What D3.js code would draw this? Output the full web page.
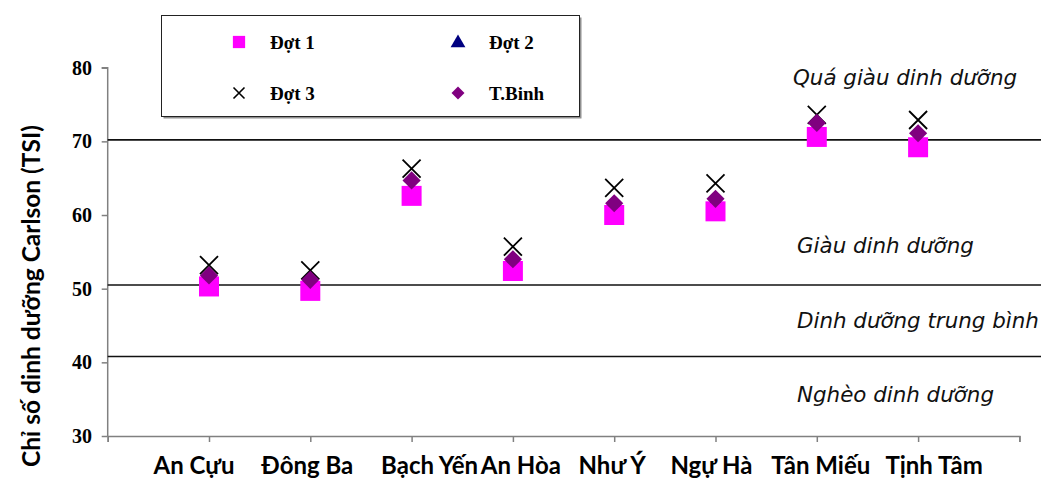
<!DOCTYPE html>
<html>
<head>
<meta charset="utf-8">
<script src="https://cdn.jsdelivr.net/npm/d3@7"></script>
<style>
  html, body { margin: 0; padding: 0; background: #fff; }
  svg { display: block; }
</style>
</head>
<body>
<script>
// Carlson trophic state index (TSI) per lake, three sampling rounds and their mean
const lakes = ["An Cựu", "Đông Ba", "Bạch Yến", "An Hòa", "Như Ý", "Ngự Hà", "Tân Miếu", "Tịnh Tâm"];
const dot1 = [50.3, 49.7, 62.6, 52.4, 60.0, 60.5, 70.6, 69.2];
const dot2 = [51.8, 51.3, 64.9, 53.9, 61.5, 62.1, 72.4, 71.1];
const dot3 = [53.2, 52.5, 66.3, 55.7, 63.7, 64.3, 73.6, 72.9];
const tbinh = [51.8, 51.2, 64.7, 54.0, 61.6, 62.2, 72.5, 71.1];
const yTicks = [30, 40, 50, 60, 70, 80];

// Trophic class boundaries and zone names
const boundaries = [70.2, 50.5, 40.8];
const zones = [
  { name: "Quá giàu dinh dưỡng", v: 77.65 },
  { name: "Giàu dinh dưỡng", v: 54.8 },
  { name: "Dinh dưỡng trung bình", v: 44.67 },
  { name: "Nghèo dinh dưỡng", v: 34.6 }
];

// Horizontal shift of each lake name relative to its point
const labelShift = [-15, -3, 18, 8, -2, -4, 4, 16];

const W = 1041, H = 479;
const svg = d3.select("body").append("svg").attr("width", W).attr("height", H);

const x = d3.scaleLinear().domain([0, 9]).range([107.7, 1019.4]);
const y = d3.scaleLinear().domain([30, 80]).range([436, 67.7]);

// Axes
const axisColor = "#808080";
const yAxis = svg.append("g").attr("transform", `translate(${x(0)},0)`)
  .call(d3.axisLeft(y).tickValues(yTicks).tickSize(6).tickFormat(""));
const xAxis = svg.append("g").attr("transform", `translate(0,${y(30)})`)
  .call(d3.axisBottom(x).tickValues(d3.range(0, 10)).tickSize(6).tickFormat(""));
[yAxis, xAxis].forEach(g => {
  g.select(".domain").attr("stroke", axisColor).attr("stroke-width", 1.5);
  g.selectAll(".tick line").attr("stroke", axisColor).attr("stroke-width", 1.5);
});
yAxis.select(".domain").attr("d", `M-6,${y(80)}H0V${y(30)}`);

// Y tick labels
svg.append("g").selectAll("text").data(yTicks).join("text")
  .attr("x", 92).attr("y", d => y(d)).attr("dy", "0.35em")
  .attr("text-anchor", "end")
  .attr("font-family", "'Liberation Serif', 'Times New Roman', serif")
  .attr("font-weight", "bold").attr("font-size", 20)
  .text(d => d);

// Y axis title
svg.append("text")
  .attr("transform", `translate(40,296) rotate(-90)`)
  .attr("text-anchor", "middle")
  .attr("font-family", "Lato, 'Open Sans', sans-serif")
  .attr("font-weight", "bold").attr("font-size", 24.5)
  .text("Chỉ số dinh dưỡng Carlson (TSI)");

// Lake names
svg.append("g").selectAll("text").data(lakes).join("text")
  .attr("x", (d, i) => x(i + 1) + labelShift[i]).attr("y", 474)
  .attr("text-anchor", "middle")
  .attr("font-family", "Lato, 'Open Sans', sans-serif")
  .attr("font-weight", "bold").attr("font-size", 24)
  .text(d => d);

// Class boundary lines
svg.append("g").selectAll("line").data(boundaries).join("line")
  .attr("x1", x(0)).attr("x2", W)
  .attr("y1", d => y(d)).attr("y2", d => y(d))
  .attr("stroke", "#111").attr("stroke-width", 1.6);

// Zone names
svg.append("g").selectAll("text").data(zones).join("text")
  .attr("x", (d, i) => i === 0 ? 793 : 797).attr("y", d => y(d.v))
  .attr("font-family", "'DejaVu Sans', sans-serif")
  .attr("font-style", "italic").attr("font-size", 21.4)
  .attr("fill", "#111")
  .text(d => d.name);

// Marker shapes
const sq = d3.symbol().type(d3.symbolSquare);
const tri = d3.symbol().type(d3.symbolTriangle);
const cross = s => `M${-s},${-s}L${s},${s}M${-s},${s}L${s},${-s}`;

const COL1 = "#ff00ff", COL2 = "#000080", COL3 = "#000000", COLT = "#800080";

const marks = svg.append("g");
marks.selectAll(".d1").data(dot1).join("path").attr("class", "d1")
  .attr("transform", (d, i) => `translate(${x(i + 1)},${y(d)})`)
  .attr("d", sq.size(400)()).attr("fill", COL1);
marks.selectAll(".d2").data(dot2).join("path").attr("class", "d2")
  .attr("transform", (d, i) => `translate(${x(i + 1)},${y(d)})`)
  .attr("d", tri.size(50)()).attr("fill", COL2);
marks.selectAll(".d3").data(dot3).join("path").attr("class", "d3")
  .attr("transform", (d, i) => `translate(${x(i + 1)},${y(d)})`)
  .attr("d", cross(9)).attr("stroke", COL3).attr("stroke-width", 1.8).attr("fill", "none");
marks.selectAll(".tb").data(tbinh).join("path").attr("class", "tb")
  .attr("d", sq.size(165)()).attr("fill", COLT)
  .attr("transform", (d, i) => `translate(${x(i + 1)},${y(d)}) rotate(45)`);

// Legend
const lg = svg.append("g");
lg.append("rect").attr("x", 163.5).attr("y", 17.5).attr("width", 418).attr("height", 101)
  .attr("fill", "#909090");
lg.append("rect").attr("x", 161.5).attr("y", 15.5).attr("width", 418).attr("height", 101)
  .attr("fill", "#fff").attr("stroke", "#222").attr("stroke-width", 1);

const legendItems = [
  { name: "Đợt 1", kind: "sq", cx: 239, cy: 42 },
  { name: "Đợt 2", kind: "tri", cx: 458, cy: 42 },
  { name: "Đợt 3", kind: "x", cx: 239, cy: 93 },
  { name: "T.Binh", kind: "dia", cx: 458, cy: 93 }
];
legendItems.forEach(it => {
  const g = lg.append("g").attr("transform", `translate(${it.cx},${it.cy})`);
  if (it.kind === "sq") g.append("path").attr("d", sq.size(150)()).attr("fill", COL1);
  if (it.kind === "tri") g.append("path").attr("d", tri.size(95)()).attr("transform", "translate(0,1)").attr("fill", COL2);
  if (it.kind === "x") g.append("path").attr("d", cross(5.5)).attr("stroke", COL3).attr("stroke-width", 1.6);
  if (it.kind === "dia") g.append("path").attr("d", sq.size(85)()).attr("transform", "rotate(45)").attr("fill", COLT);
  g.append("text").attr("x", 31).attr("y", 6.5)
    .attr("font-family", "'Liberation Serif', 'Times New Roman', serif")
    .attr("font-weight", "bold").attr("font-size", 19)
    .text(it.name);
});
</script>
</body>
</html>
